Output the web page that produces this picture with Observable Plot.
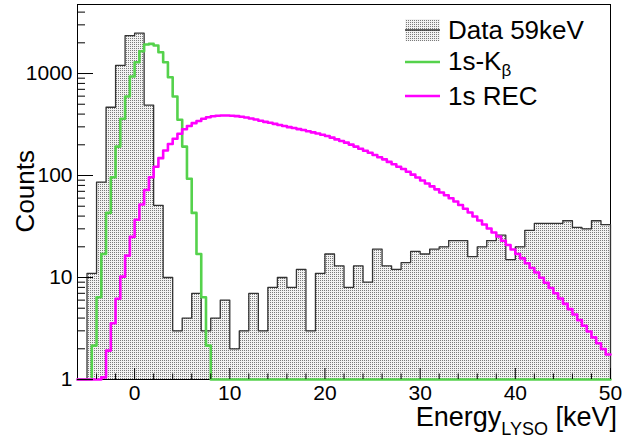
<!DOCTYPE html>
<html>
<head>
<meta charset="utf-8">
<script src="https://cdn.jsdelivr.net/npm/d3@7"></script>
<script src="https://cdn.jsdelivr.net/npm/@observablehq/plot@0.6"></script>
<style>
  html, body { margin: 0; padding: 0; background: #fff; }
  #chart { width: 634px; height: 440px; }
</style>
</head>
<body>
<div id="chart"></div>
<script>
// ---- Data ----
// Measured spectrum "Data 59keV": 1 keV bins starting at -6 keV
const dataStart = -6;
const dataWidth = 1;
const dataCounts = [0, 11, 86, 467, 1200, 2350, 2484, 490, 51, 10,
  3, 4, 7, 3, 4, 6, 2, 3, 7, 3,
  8, 10, 8, 12, 3, 11, 17, 13, 8, 13,
  9, 19, 13, 12, 14, 18, 17, 19, 20, 23,
  23, 16, 20, 23, 26, 15, 20, 29, 34, 34,
  34, 36, 31, 30, 36, 33];

// "1s-Kβ": 0.5 keV bins starting at -4.5 keV (empty elsewhere)
const kbStart = -4.5;
const kbWidth = 0.5;
const kbCounts = [2.15, 6.4, 17, 43, 96, 192, 360, 595, 935, 1290,
  1656, 1923, 1952, 1882, 1617, 1290, 920, 595, 352, 192,
  93, 43, 17, 6.4, 2.15];

// "1s REC": 0.5 keV bins starting at -3.5 keV
const recStart = -3.5;
const recWidth = 0.5;
const recCounts = [1.05, 1.92, 3.56, 6.2, 10.2, 16.4, 25,
  36.8, 52, 72, 96, 122, 148, 176, 204, 229, 257,
  284, 306, 326, 342, 360, 373, 381, 385, 387, 387,
  385, 382, 377, 370, 362, 354, 344, 336, 329, 321,
  313, 306, 298, 292, 285, 279, 272, 265, 258, 251,
  244, 235, 226, 218, 210, 201, 192, 183, 175, 167,
  159, 151, 144, 136, 129, 122, 116, 109, 102, 95.6,
  89.3, 83.5, 78.2, 73.2, 68.1, 64, 59.9, 55.6, 51.4, 47.2,
  43.4, 39.6, 36.2, 33.1, 30.2, 27.6, 25.2, 22.9, 20.8, 18.8,
  17, 15.4, 13.8, 12.4, 11.2, 9.95, 8.87, 7.89, 7.02, 6.22,
  5.52, 4.9, 4.34, 3.82, 3.37, 2.96, 2.59, 2.27, 1.99, 1.76];

// Axis ranges and ticks
const xDomain = [-6, 50];
const yDomain = [1, 4750];
const xMajor = [0, 10, 20, 30, 40, 50];
const xMinor = [-4, -2, 2, 4, 6, 8, 12, 14, 16, 18, 22, 24, 26, 28, 32, 34, 36, 38, 42, 44, 46, 48];
const yMajor = [1, 10, 100, 1000];
const yMinor = [2, 3, 4, 5, 6, 7, 8, 9, 20, 30, 40, 50, 60, 70, 80, 90,
  200, 300, 400, 500, 600, 700, 800, 900, 2000, 3000, 4000];

const legendLabels = ["Data 59keV", "1s-K", "1s REC"];

// ---- Build tables ----
const FLOOR = yDomain[0];
function bins(start, width, counts) {
  return counts.map((c, i) => ({x1: start + i * width, x2: start + (i + 1) * width, c}));
}
function steps(start, width, counts, lo, hi, closeEnd) {
  const pts = [{x: lo, y: FLOOR}];
  if (start > lo) pts.push({x: start, y: FLOOR});
  counts.forEach((c, i) => {
    const v = Math.max(c, FLOOR);
    pts.push({x: start + i * width, y: v}, {x: start + (i + 1) * width, y: v});
  });
  const end = start + counts.length * width;
  if (end < hi) pts.push({x: end, y: FLOOR}, {x: hi, y: FLOOR});
  else if (closeEnd) pts.push({x: end, y: FLOOR});
  return pts;
}
const dataBins = bins(dataStart, dataWidth, dataCounts).filter(d => d.c >= 1);
const dataSteps = steps(dataStart, dataWidth, dataCounts, xDomain[0], xDomain[1], true);
const kbSteps = steps(kbStart, kbWidth, kbCounts, xDomain[0], xDomain[1], false);
const recSteps = steps(recStart, recWidth, recCounts, xDomain[0], xDomain[1], false);

const W = 634, H = 440, mL = 77, mR = 24, mT = 4, mB = 61;
const plotW = W - mL - mR, plotH = H - mT - mB;
const GREEN = "#55d24c", MAGENTA = "#ff00ff", DATA = "#333333";
const FONT = "'Liberation Sans', Arial, Helvetica, sans-serif";

const chart = Plot.plot({
  width: W, height: H,
  marginLeft: mL, marginRight: mR, marginTop: mT, marginBottom: mB,
  x: {domain: xDomain, axis: null},
  y: {type: "log", domain: yDomain, axis: null},
  style: {fontFamily: FONT, background: "#fff", color: "#000"},
  marks: [
    Plot.rectY(dataBins, {x1: "x1", x2: "x2", y1: FLOOR, y2: "c", fill: "url(#dots)", shapeRendering: "crispEdges"}),
    Plot.frame({stroke: "#000", strokeWidth: 1}),
    Plot.line(dataSteps, {x: "x", y: "y", stroke: DATA, strokeWidth: 1.3}),
    Plot.line(kbSteps, {x: "x", y: "y", stroke: GREEN, strokeWidth: 2.6}),
    Plot.line(recSteps, {x: "x", y: "y", stroke: MAGENTA, strokeWidth: 2.6}),
    Plot.ruleX(xMajor, {x: d => d, insetTop: plotH - 11, stroke: "#000", strokeWidth: 1}),
    Plot.ruleX(xMinor, {x: d => d, insetTop: plotH - 5.5, stroke: "#000", strokeWidth: 1}),
    Plot.ruleY(yMajor, {y: d => d, insetRight: plotW - 16, stroke: "#000", strokeWidth: 1}),
    Plot.ruleY(yMinor, {y: d => d, insetRight: plotW - 8, stroke: "#000", strokeWidth: 1}),
    Plot.text(xMajor, {x: d => d, frameAnchor: "bottom", lineAnchor: "top", dy: 6, text: d => String(d), fontSize: 21, fill: "#000"}),
    Plot.text(yMajor, {y: d => d, frameAnchor: "left", textAnchor: "end", dx: -5, text: d => String(d), fontSize: 21, fill: "#000"})
  ]
});
document.getElementById("chart").appendChild(chart);

// ---- Pattern, titles and legend ----
const svg = d3.select(chart);
const defs = svg.insert("defs", ":first-child");
const pat = defs.append("pattern").attr("id", "dots").attr("patternUnits", "userSpaceOnUse")
  .attr("width", 2).attr("height", 2);
pat.append("rect").attr("width", 2).attr("height", 2).attr("fill", "#f2f2f2");
pat.append("rect").attr("width", 1).attr("height", 1).attr("fill", "#7a7a7a");

const g = svg.append("g").attr("font-family", FONT).attr("fill", "#000");
// y title
g.append("text").attr("transform", "translate(34,150) rotate(-90)")
  .attr("text-anchor", "end").attr("font-size", 26).text("Counts");
// x title with subscript
const xt = g.append("text").attr("x", 617).attr("y", 426).attr("text-anchor", "end").attr("font-size", 27);
xt.append("tspan").text("Energy");
xt.append("tspan").attr("font-size", 18).attr("dy", 9).text("LYSO");
xt.append("tspan").attr("dy", -9).text(" [keV]");

// legend
const lx0 = 405, lx1 = 440, tx = 448;
const leg = g.append("g").attr("text-anchor", "start");
leg.append("rect").attr("x", lx0).attr("y", 19).attr("width", lx1 - lx0).attr("height", 22).attr("fill", "url(#dots)");
leg.append("line").attr("x1", lx0).attr("x2", lx1).attr("y1", 30).attr("y2", 30).attr("stroke", DATA).attr("stroke-width", 1.3);
leg.append("text").attr("x", tx).attr("y", 39).attr("font-size", 26).text(legendLabels[0]);
leg.append("line").attr("x1", lx0).attr("x2", lx1).attr("y1", 62).attr("y2", 62).attr("stroke", GREEN).attr("stroke-width", 2.6);
const t2 = leg.append("text").attr("x", tx).attr("y", 70).attr("font-size", 26);
t2.append("tspan").text(legendLabels[1]);
t2.append("tspan").attr("font-size", 17).attr("dy", 6).text("β");
leg.append("line").attr("x1", lx0).attr("x2", lx1).attr("y1", 96).attr("y2", 96).attr("stroke", MAGENTA).attr("stroke-width", 2.6);
leg.append("text").attr("x", tx).attr("y", 105).attr("font-size", 26).text(legendLabels[2]);
</script>
</body>
</html>
